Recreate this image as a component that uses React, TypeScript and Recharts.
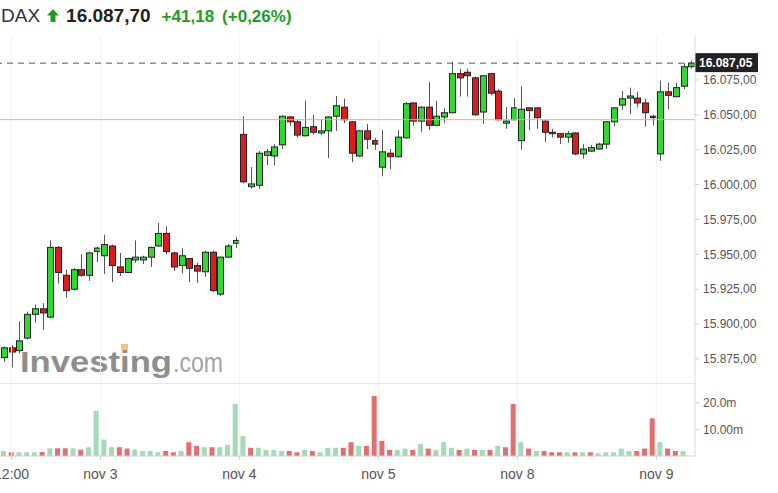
import React from "react";
import { ComposedChart, Bar, XAxis, YAxis, ReferenceLine, Cell } from "recharts";

// 30-minute DAX candles
const opens = [
  15876, 15883, 15881, 15890, 15907, 15911, 15905, 15955, 15935, 15925,
  15939, 15935, 15952, 15949, 15956, 15941, 15937, 15946, 15946, 15948,
  15956, 15965, 15951, 15942, 15947, 15942, 15937.5, 15951.5, 15921.5, 15948,
  15958, 16036, 15998.5, 15999.5, 16021, 16020.5, 16028.5, 16048.5, 16045, 16035,
  16041.5, 16037, 16038.5, 16049, 16055.5, 16045, 16020.5, 16038.5, 16031.5, 16012.5,
  16022.5, 16020, 16033.5, 16058.5, 16045.5, 16055.5, 16042.5, 16048.5, 16051.5, 16079.5,
  16080.5, 16076.5, 16052, 16079.5, 16067, 16044, 16046.5, 16031.5, 16055, 16055,
  16045.5, 16037.5, 16036.5, 16034, 16037, 16022, 16024, 16025.5, 16029, 16045,
  16057, 16062, 16062, 16058.5, 16049, 16022, 16066.5, 16063, 16070.5, 16084.5,
];

const highs = [
  15884, 15885, 15902, 15909, 15914, 15915, 15960, 15956, 15939, 15940,
  15950, 15952, 15955.5, 15964, 15957, 15951, 15947.5, 15960, 15949, 15955.5,
  15972.5, 15970, 15952, 15954.5, 15947.5, 15944, 15952.5, 15952.5, 15948.5, 15957.5,
  15962.5, 16049, 16012.5, 16024, 16025.5, 16029, 16049.5, 16049, 16046.5, 16060,
  16050, 16046.5, 16049, 16063.5, 16061.5, 16045.5, 16039, 16043.5, 16033.5, 16039,
  16025.5, 16039, 16059, 16059, 16056, 16073.5, 16060, 16055, 16088, 16083,
  16083, 16077.5, 16078, 16080, 16068.5, 16055.5, 16062, 16070.5, 16055.5, 16055.5,
  16046, 16040, 16037, 16038.5, 16037.5, 16029, 16028.5, 16030, 16045.5, 16055.5,
  16067, 16069.5, 16066.5, 16061.5, 16050, 16074.5, 16073, 16073, 16087, 16089,
];

const lows = [
  15873, 15869, 15879, 15889, 15901, 15896, 15904, 15929, 15919, 15924,
  15934, 15931, 15944.5, 15936, 15930, 15934.5, 15936.5, 15944, 15943, 15941,
  15955.5, 15950, 15938, 15936.5, 15930, 15929.5, 15934, 15923, 15920, 15947.5,
  15954.5, 16001, 15997, 15997, 16014, 16014, 16025.5, 16042, 16034, 16034.5,
  16036, 16035.5, 16019, 16038.5, 16044, 16016, 16020, 16025.5, 16025, 16006,
  16011, 16019.5, 16033, 16042, 16037.5, 16039, 16042, 16044, 16051, 16063,
  16063, 16049.5, 16043.5, 16064, 16046, 16040, 16046, 16025, 16039, 16040,
  16030.5, 16034, 16029, 16030, 16021, 16018.5, 16023.5, 16025, 16025.5, 16042,
  16053.5, 16050.5, 16055.5, 16041.5, 16042.5, 16017, 16054, 16062.5, 16068.5, 16083,
];

const closes = [
  15883, 15880, 15888, 15907, 15911, 15908, 15955, 15937, 15924, 15939,
  15935, 15951, 15954.5, 15957, 15942, 15937, 15947, 15948, 15948, 15955,
  15965, 15952, 15941, 15949, 15940, 15938, 15951.5, 15924, 15948, 15956,
  15960, 16002, 16000.5, 16022.5, 16023.5, 16027, 16049, 16045, 16035.5, 16041,
  16037.5, 16038.5, 16048.5, 16056.5, 16046.5, 16022.5, 16038.5, 16032.5, 16029, 16023.5,
  16020, 16034, 16058, 16045.5, 16055.5, 16042.5, 16049, 16051.5, 16079.5, 16076.5,
  16078, 16050, 16078, 16065.5, 16046.5, 16045.5, 16055, 16054, 16053, 16048,
  16037.5, 16036.5, 16034, 16036.5, 16022, 16025.5, 16026.5, 16029, 16045, 16055,
  16061.5, 16063.5, 16058.5, 16051.5, 16048, 16066.5, 16064, 16069.5, 16084.5, 16087.05,
];

// volume in millions, as drawn per slot
const volumes = [
  1.9, 1.4, 1.4, 1.4, 1.4, 1.5, 2.9, 2.9, 2.9, 2.9,
  2.4, 3.3, 17.0, 6.2, 3.3, 3.3, 2.8, 2.4, 1.9, 1.9,
  1.4, 1.9, 1.4, 1.9, 5.2, 3.8, 3.3, 3.3, 3.3, 4.2,
  19.6, 7.5, 3.1, 3.1, 2.3, 2.3, 1.9, 1.9, 1.4, 2.3,
  1.9, 1.4, 3.1, 3.1, 3.1, 5.2, 3.8, 3.8, 22.6, 5.7,
  2.3, 2.3, 2.8, 2.3, 4.5, 2.8, 2.3, 5.2, 3.1, 2.3,
  2.8, 2.3, 2.3, 2.3, 3.8, 3.3, 19.6, 5.2, 2.8, 1.9,
  1.9, 1.4, 1.4, 1.4, 1.4, 1.4, 1.4, 1.0, 1.4, 1.4,
  2.8, 1.9, 1.9, 2.8, 14.2, 5.2, 2.8, 1.9, 1.9, 0,
];
// u = up (green), d = down (red)
const volumeDir = (
  "uduuududdu" + "duuuudduuu" + "uddudduduu" + "uudaauuddu".replace(/a/g, "u") +
  "duuudduddd" + "duududuuud" + "udududdudu" + "dddududuuu" + "uudddudduu"
).split("");

const priceTicks = [15875, 15900, 15925, 15950, 15975, 16000, 16025, 16050, 16075];
const volumeTicks = [10, 20];
const volumeTickLabels = ["10.00m", "20.0m"];
const timeTicks = [1, 12.5, 30.5, 48.5, 66.5, 84.5];
const timeLabels = ["12:00", "nov 3", "nov 4", "nov 5", "nov 8", "nov 9"];

const lastPrice = 16087.05;
const prevClose = 16046.52;
const headerPrice = 16087.7;
const headerChange = 41.18;
const headerPct = 0.26;

const GREEN = "#33d633";
const RED = "#dc1c1c";
const UP_TEXT = "#1f9d1f";
const FONT = '"Liberation Sans", Arial, sans-serif';

function fmt(v: number, digits = 2) {
  const [a, b] = v.toFixed(digits).split(".");
  return a.replace(/\B(?=(\d{3})+(?!\d))/g, ".") + "," + b;
}

const candles = opens.map((o, i) => ({
  i,
  open: o,
  high: highs[i],
  low: lows[i],
  close: closes[i],
  range: [lows[i], highs[i]],
  vol: volumes[i],
  volUp: volumeDir[i] === "u",
}));

function Candle(props: any) {
  const { x, y, width, height, payload } = props;
  if (height == null || !payload) return null;
  const { open, close, high, low } = payload;
  const k = height / (high - low);
  const yO = y + (high - open) * k;
  const yC = y + (high - close) * k;
  const top = Math.min(yO, yC);
  const h = Math.max(Math.abs(yO - yC), 1);
  const up = close >= open;
  const cx = Math.round(x + width / 2) + 0.5;
  return (
    <g>
      <line x1={cx} x2={cx} y1={y} y2={y + height} stroke="#555" strokeWidth={1} />
      <rect
        x={cx - width / 2}
        y={top}
        width={width}
        height={h}
        fill={up ? GREEN : RED}
        stroke="#222"
        strokeWidth={1}
      />
    </g>
  );
}

function PriceTag({ viewBox }: any) {
  if (!viewBox) return null;
  const x = viewBox.x + viewBox.width;
  const y = viewBox.y;
  return (
    <g>
      <rect x={x} y={y - 10} width={63} height={19} fill="#222" />
      <text x={x + 4} y={y} dy="0.36em" fill="#fff" fontSize={12} fontWeight="bold" fontFamily={FONT}>
        {fmt(lastPrice)}
      </text>
    </g>
  );
}

function UpArrow() {
  return (
    <svg width={12} height={13} viewBox="0 0 12 13" style={{ marginLeft: 7, marginRight: 7 }}>
      <polygon points="6,0 12,6.5 8.5,6.5 8.5,13 3.5,13 3.5,6.5 0,6.5" fill={UP_TEXT} />
    </svg>
  );
}

export default function App() {
  return (
    <div
      style={{
        position: "absolute",
        left: 0,
        top: 0,
        width: 778,
        height: 493,
        background: "#fff",
        overflow: "hidden",
        fontFamily: FONT,
      }}
    >
      {/* header */}
      <div
        style={{
          position: "absolute",
          left: 1,
          top: 6,
          display: "flex",
          alignItems: "baseline",
          lineHeight: "19px",
          whiteSpace: "nowrap",
        }}
      >
        <span style={{ fontSize: 19, color: "#333" }}>DAX</span>
        <UpArrow />
        <span style={{ fontSize: 19, fontWeight: "bold", color: "#222" }}>{fmt(headerPrice)}</span>
        <span style={{ fontSize: 17, fontWeight: "bold", color: UP_TEXT, marginLeft: 11 }}>
          +{fmt(headerChange)}
        </span>
        <span style={{ fontSize: 17, fontWeight: "bold", color: UP_TEXT, marginLeft: 8 }}>
          (+{fmt(headerPct)}%)
        </span>
      </div>

      {/* watermark */}
      <svg style={{ position: "absolute", left: 0, top: 0 }} width={778} height={493}>
        <text x={20} y={372} fontSize={30} fontWeight="bold" fill="#8e8e8e" textLength={152} lengthAdjust="spacingAndGlyphs">
          Investing
        </text>
        <rect x={121} y={344} width={7} height={6} fill="#f8b65c" opacity={0.85} />
        <text x={173} y={372} fontSize={27} fill="#a3a3a3" textLength={50} lengthAdjust="spacingAndGlyphs">
          .com
        </text>
      </svg>

      {/* price panel */}
      <div style={{ position: "absolute", left: 0, top: 36 }}>
        <ComposedChart width={778} height={347} data={candles} margin={{ top: 0, right: 0, bottom: 0, left: 0 }}>
          <XAxis dataKey="i" type="number" domain={[-0.5, 89.5]} hide allowDataOverflow />
          <YAxis
            orientation="right"
            type="number"
            domain={[15857.8, 16106.5]}
            ticks={priceTicks}
            allowDataOverflow
            width={83}
            tickSize={4}
            tickMargin={4}
            tickFormatter={(v: number) => fmt(v)}
            axisLine={{ stroke: "#dcdcdc" }}
            tickLine={{ stroke: "#cfcfcf" }}
            tick={{ fill: "#555", fontSize: 12 }}
          />
          {timeTicks.map((t) => (
            <ReferenceLine key={t} x={t} stroke="#f2f2f2" />
          ))}
          <ReferenceLine y={prevClose} stroke="#f2a3a3" />
          <ReferenceLine y={lastPrice} stroke="#555" strokeDasharray="6 5" label={<PriceTag />} />
          <Bar dataKey="range" barSize={6} shape={<Candle />} isAnimationActive={false} />
        </ComposedChart>
      </div>

      {/* volume panel */}
      <div style={{ position: "absolute", left: 0, top: 383 }}>
        <ComposedChart width={778} height={110} data={candles} margin={{ top: 0, right: 0, bottom: 0, left: 0 }}>
          <XAxis
            dataKey="i"
            type="number"
            domain={[-0.5, 89.5]}
            allowDataOverflow
            ticks={timeTicks}
            tickFormatter={(v: number) => timeLabels[timeTicks.indexOf(v)]}
            height={37}
            tickSize={4}
            tickMargin={9}
            interval={0}
            axisLine={{ stroke: "#cfcfcf" }}
            tickLine={{ stroke: "#cfcfcf" }}
            tick={{ fill: "#555", fontSize: 14 }}
          />
          <YAxis
            orientation="right"
            type="number"
            domain={[0, 27.5]}
            ticks={volumeTicks}
            allowDataOverflow
            width={83}
            tickSize={4}
            tickMargin={4}
            tickFormatter={(v: number) => volumeTickLabels[volumeTicks.indexOf(v)]}
            axisLine={{ stroke: "#dcdcdc" }}
            tickLine={{ stroke: "#cfcfcf" }}
            tick={{ fill: "#555", fontSize: 12 }}
          />
          {timeTicks.map((t) => (
            <ReferenceLine key={t} x={t} stroke="#f2f2f2" />
          ))}
          <ReferenceLine y={27.5} stroke="#cfcfcf" />
          <Bar dataKey="vol" barSize={5} isAnimationActive={false}>
            {candles.map((c) => (
              <Cell key={c.i} fill={c.volUp ? "#a4d9b9" : "#e36e6e"} />
            ))}
          </Bar>
        </ComposedChart>
      </div>
    </div>
  );
}
